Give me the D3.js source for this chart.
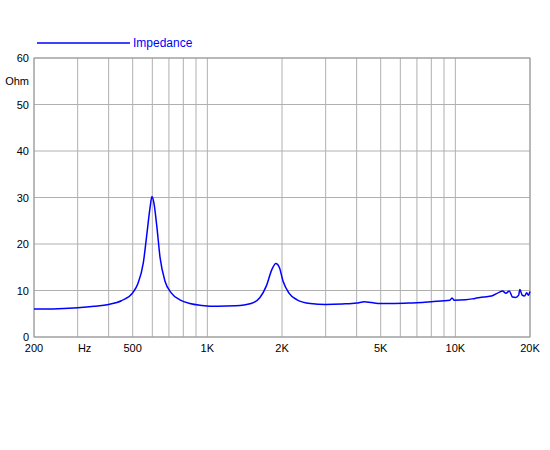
<!DOCTYPE html><html><head><script src="https://cdn.jsdelivr.net/npm/d3@7"></script>
<style>body{margin:0;background:#fff}text{font-family:"Liberation Sans",Arial,sans-serif;font-size:11px}</style></head><body>
<svg width="550" height="450"></svg>
<script>
const freqs=[200,250,300,350,400,450,500,525,552,570,588,598,608,625,645,675,715,775,850,950,1100,1300,1500,1630,1730,1820,1890,1950,2020,2130,2300,2600,3000,3500,4000,4300,4600,5000,5500,6500,8000,9500,9700,9900,11000,12000,13000,14000,15000,15500,16000,16500,17000,17500,18000,18200,18600,19000,19400,19700,20000];
const imped=[6.0,6.1,6.3,6.6,7.0,7.8,9.5,11.5,16,22,28,30.2,29,24,17,12,9.5,8,7.2,6.8,6.6,6.7,7.2,8.5,11,14.5,15.8,15,12,9.5,8,7.2,7.0,7.1,7.3,7.6,7.4,7.2,7.2,7.3,7.6,7.9,8.4,7.9,8.0,8.3,8.6,8.8,9.6,9.9,9.4,9.9,8.6,8.5,9.0,10.2,9.0,8.8,9.5,9.0,9.8];
const gridFreqs=[200,300,400,500,600,700,800,900,1000,2000,3000,4000,5000,6000,7000,8000,9000,10000,20000];
const xLabels=[[200,"200"],[320,"Hz"],[500,"500"],[1000,"1K"],[2000,"2K"],[5000,"5K"],[10000,"10K"],[20000,"20K"]];
const yTicks=[0,10,20,30,40,50,60];
const svg=d3.select("svg");
const x=d3.scaleLog().domain([200,20000]).range([34,530]);
const y=d3.scaleLinear().domain([0,60]).range([337,58]);
svg.selectAll(".vg").data(gridFreqs).enter().append("line").attr("x1",d=>x(d)).attr("x2",d=>x(d)).attr("y1",58).attr("y2",337).attr("stroke","#b0b0b0");
svg.selectAll(".hg").data(yTicks).enter().append("line").attr("x1",34).attr("x2",530).attr("y1",d=>y(d)).attr("y2",d=>y(d)).attr("stroke","#b0b0b0");
svg.append("rect").attr("x",34).attr("y",58).attr("width",496).attr("height",279).attr("fill","none").attr("stroke","#999");
svg.selectAll(".yl").data(yTicks).enter().append("text").attr("x",29).attr("y",d=>y(d)+4).attr("text-anchor","end").text(d=>d);
svg.append("text").attr("x",29).attr("y",85).attr("text-anchor","end").text("Ohm");
svg.selectAll(".xl").data(xLabels).enter().append("text").attr("x",d=>x(d[0])).attr("y",352).attr("text-anchor","middle").text(d=>d[1]);
svg.append("path").datum(freqs.map((f,i)=>[f,imped[i]])).attr("fill","none").attr("stroke","#0000ff").attr("stroke-width",1.5)
 .attr("d",d3.line().x(d=>x(d[0])).y(d=>y(d[1])).curve(d3.curveMonotoneX));
svg.append("line").attr("x1",37).attr("x2",130).attr("y1",43).attr("y2",43).attr("stroke","#0000ff").attr("stroke-width",1.5);
svg.append("text").attr("x",133).attr("y",47).attr("fill","#0000ff").style("font-size","12px").text("Impedance");
</script></body></html>
